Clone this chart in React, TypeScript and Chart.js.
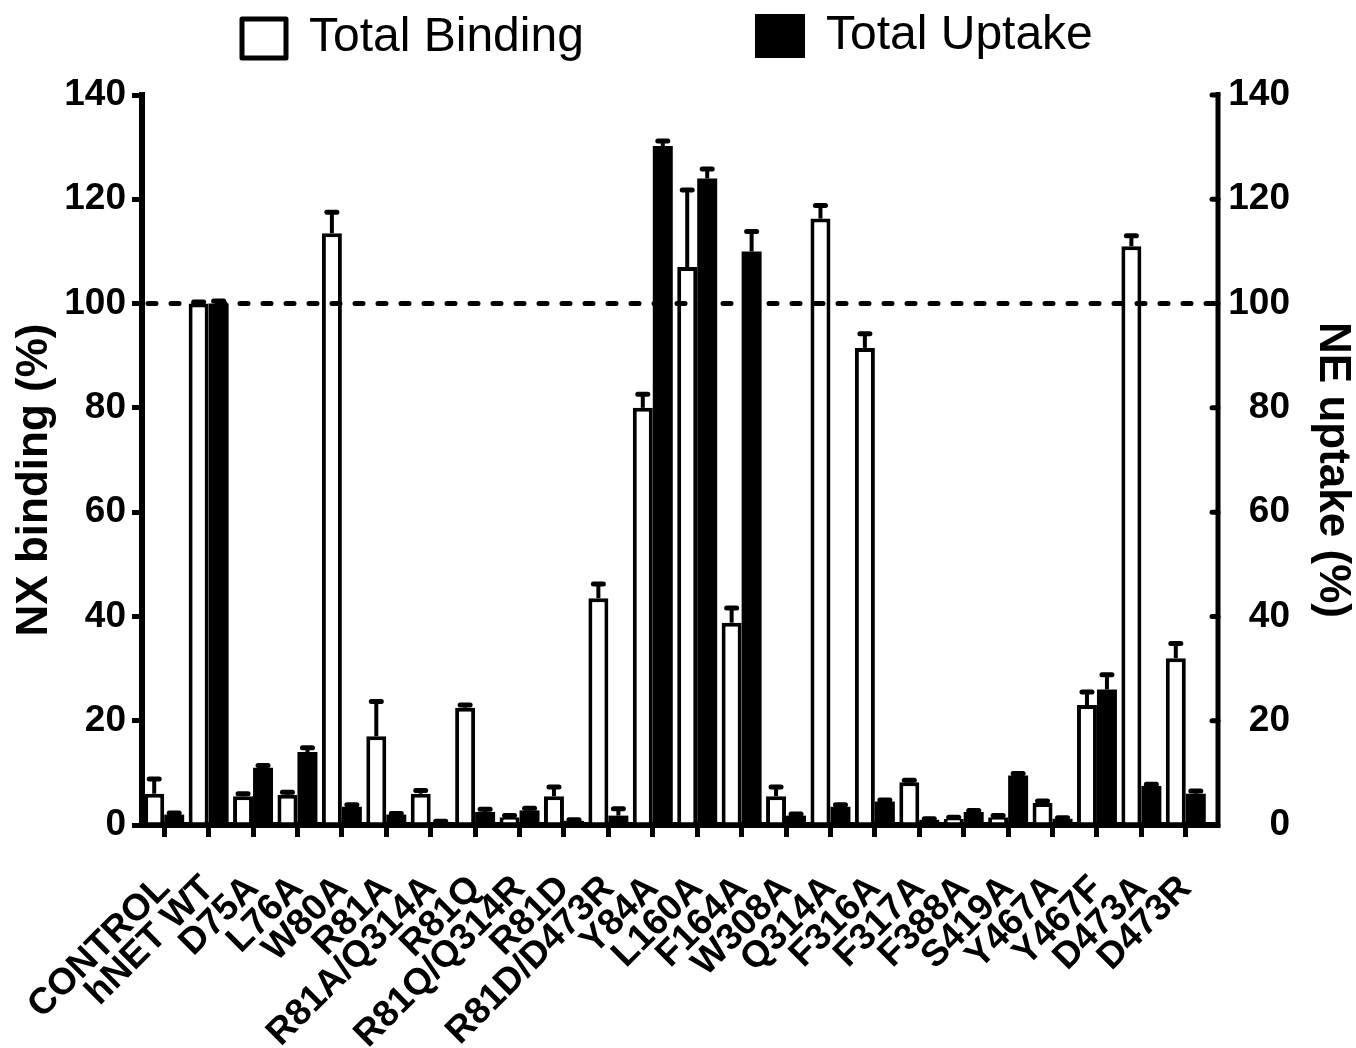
import React, { useEffect, useRef } from 'react';
import { Chart, registerables } from 'chart.js';

Chart.register(...registerables);

const categories = [
  'CONTROL', 'hNET WT', 'D75A', 'L76A', 'W80A', 'R81A', 'R81A/Q314A', 'R81Q',
  'R81Q/Q314R', 'R81D', 'R81D/D473R', 'Y84A', 'L160A', 'F164A', 'W308A', 'Q314A',
  'F316A', 'F317A', 'F388A', 'S419A', 'Y467A', 'Y467F', 'D473A', 'D473R',
];

const totalBinding = [6, 100, 5.5, 5.8, 113.5, 17, 6, 22.5, 1.5, 5.5, 43.5, 80, 107, 38.8, 5.5, 116.3, 91.5, 8.2, 1.2, 1.5, 4.2, 23, 111, 32];
const totalBindingErr = [2.8, 0.3, 0.5, 0.5, 4, 6.7, 0.6, 0.5, 0.3, 1.8, 2.7, 2.6, 14.8, 2.8, 1.8, 2.5, 2.7, 0.4, 0.3, 0.3, 0.4, 2.5, 2, 2.8];
const totalUptake = [2, 100, 11, 14, 3.5, 2, 0.5, 2.5, 2.8, 0.8, 1.8, 130.2, 124, 110, 1.8, 3.5, 4.5, 1, 2.5, 9.5, 1.2, 26, 7.5, 6];
const totalUptakeErr = [0.3, 0.5, 0.4, 0.8, 0.4, 0.2, 0.2, 0.5, 0.4, 0.2, 1.3, 1, 1.8, 3.8, 0.3, 0.4, 0.3, 0.2, 0.3, 0.4, 0.2, 2.8, 0.3, 0.5];

const yTicks = [0, 20, 40, 60, 80, 100, 120, 140];
const referenceLevel = 100;
const legendLabels = ['Total Binding', 'Total Uptake'];
const leftTitle = 'NX binding (%)';
const rightTitle = 'NE uptake (%)';

const FONT = "'Liberation Sans', Arial, Helvetica, sans-serif";
const AXIS_EXT = 10;

const errorBarPlugin = {
  id: 'errorBars',
  afterDatasetsDraw(chart: any) {
    const ctx = chart.ctx;
    ctx.save();
    ctx.strokeStyle = '#000';
    chart.data.datasets.forEach((ds: any, di: number) => {
      const meta = chart.getDatasetMeta(di);
      const yScale = chart.scales[meta.yAxisID];
      meta.data.forEach((bar: any, i: number) => {
        const v = ds.data[i];
        const e = ds.errors[i];
        const x = bar.x;
        const y0 = yScale.getPixelForValue(v);
        const y1 = yScale.getPixelForValue(v + e);
        ctx.lineCap = 'butt';
        ctx.lineWidth = 4;
        ctx.beginPath();
        ctx.moveTo(x, y0);
        ctx.lineTo(x, y1);
        ctx.stroke();
        ctx.lineCap = 'round';
        ctx.lineWidth = 5;
        ctx.beginPath();
        ctx.moveTo(x - 5, y1);
        ctx.lineTo(x + 5, y1);
        ctx.stroke();
      });
    });
    ctx.restore();
  },
};

const decorPlugin = {
  id: 'decor',
  afterDraw(chart: any) {
    const ctx = chart.ctx;
    const { left, right, top, bottom } = chart.chartArea;
    const yR = chart.scales.y1;
    const axisX = right + AXIS_EXT;
    ctx.save();
    ctx.strokeStyle = '#000';
    ctx.fillStyle = '#000';

    // dashed reference line
    const yRef = chart.scales.y.getPixelForValue(referenceLevel);
    ctx.lineWidth = 5;
    ctx.lineCap = 'round';
    ctx.setLineDash([8, 15]);
    ctx.beginPath();
    ctx.moveTo(left + 6, yRef);
    ctx.lineTo(axisX - 4, yRef);
    ctx.stroke();
    ctx.setLineDash([]);

    // x axis extension + right axis line
    ctx.lineCap = 'butt';
    ctx.lineWidth = 6;
    ctx.beginPath();
    ctx.moveTo(right - 1, bottom);
    ctx.lineTo(axisX + 2, bottom);
    ctx.stroke();
    ctx.lineWidth = 5;
    ctx.beginPath();
    ctx.moveTo(axisX, bottom + 3);
    ctx.lineTo(axisX, top - 3);
    ctx.stroke();
    // inward ticks on right axis
    ctx.lineCap = 'round';
    yTicks.forEach((t) => {
      const y = yR.getPixelForValue(t);
      ctx.beginPath();
      ctx.moveTo(axisX - 6, y);
      ctx.lineTo(axisX, y);
      ctx.stroke();
    });

    // axis titles
    ctx.font = `bold 44px ${FONT}`;
    ctx.textAlign = 'center';
    ctx.textBaseline = 'middle';
    ctx.save();
    ctx.translate(35, 480);
    ctx.rotate(-Math.PI / 2);
    ctx.fillText(leftTitle, 0, 0);
    ctx.restore();
    ctx.save();
    ctx.translate(1332, 470);
    ctx.rotate(Math.PI / 2);
    ctx.fillText(rightTitle, 0, 0);
    ctx.restore();

    // legend
    ctx.lineWidth = 5;
    ctx.lineJoin = 'round';
    ctx.fillStyle = '#fff';
    ctx.fillRect(242, 19, 44, 39);
    ctx.strokeRect(242, 19, 44, 39);
    ctx.fillStyle = '#000';
    ctx.beginPath();
    ctx.rect(755, 14, 50, 44);
    ctx.fill();
    ctx.font = `48px ${FONT}`;
    ctx.textAlign = 'left';
    ctx.textBaseline = 'middle';
    ctx.fillText(legendLabels[0], 309, 38);
    ctx.fillText(legendLabels[1], 826, 36);
    ctx.restore();
  },
};

export default function App() {
  const ref = useRef<HTMLCanvasElement | null>(null);
  useEffect(() => {
    if (!ref.current) return;
    const tickFont = { family: FONT, size: 37, weight: 'bold' as const };
    const chart = new Chart(ref.current, {
      type: 'bar',
      data: {
        labels: categories,
        datasets: [
          {
            label: legendLabels[0],
            data: totalBinding,
            errors: totalBindingErr,
            backgroundColor: '#fff',
            borderColor: '#000',
            borderWidth: 4,
            yAxisID: 'y',
            categoryPercentage: 0.9,
            barPercentage: 1.0,
          } as any,
          {
            label: legendLabels[1],
            data: totalUptake,
            errors: totalUptakeErr,
            backgroundColor: '#000',
            borderColor: '#000',
            borderWidth: 0,
            yAxisID: 'y1',
            categoryPercentage: 0.9,
            barPercentage: 1.0,
          } as any,
        ],
      },
      options: {
        responsive: false,
        animation: false,
        layout: { padding: { left: 0, right: 66, top: 95, bottom: 0 } },
        plugins: {
          legend: { display: false },
          tooltip: { enabled: false },
        },
        scales: {
          x: {
            type: 'category',
            offset: true,
            grid: {
              offset: false,
              drawOnChartArea: false,
              drawTicks: true,
              tickLength: 12,
              lineWidth: 5,
              color: '#000',
            },
            border: { display: true, width: 6, color: '#000' },
            ticks: {
              font: { family: FONT, size: 37, weight: 'bold' },
              color: '#000',
              minRotation: 45,
              maxRotation: 45,
              autoSkip: false,
              padding: 30,
            },
            afterFit: (s: any) => { s.height = 223; },
          },
          y: {
            position: 'left',
            min: 0,
            max: 140,
            grid: {
              drawOnChartArea: false,
              drawTicks: true,
              tickLength: 10,
              lineWidth: 5,
              color: '#000',
            },
            border: { display: true, width: 6, color: '#000' },
            ticks: {
              stepSize: 20,
              font: tickFont,
              color: '#000',
              padding: 6,
            },
            afterFit: (s: any) => { s.width = 142; },
          },
          y1: {
            position: 'right',
            min: 0,
            max: 140,
            grid: { display: false, drawOnChartArea: false },
            border: { display: false },
            ticks: {
              stepSize: 20,
              font: tickFont,
              color: '#000',
              crossAlign: 'far',
            },
            afterFit: (s: any) => { s.width = 82; },
          },
        },
      } as any,
      plugins: [errorBarPlugin, decorPlugin],
    });
    return () => chart.destroy();
  }, []);

  return (
    <div style={{ position: 'absolute', left: 0, top: 0, width: 1356, height: 1048, background: '#fff' }}>
      <canvas ref={ref} width={1356} height={1048} style={{ display: 'block' }} />
    </div>
  );
}
